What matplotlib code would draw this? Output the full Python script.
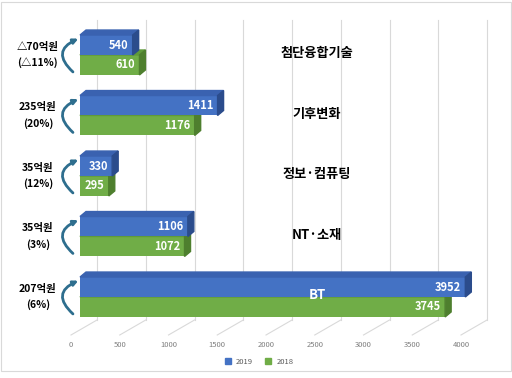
import matplotlib.pyplot as plt
from matplotlib.patches import Polygon, FancyArrowPatch, Rectangle
from matplotlib.lines import Line2D

plt.rcParams['font.family'] = ['Noto Sans CJK KR', 'DejaVu Sans']

# data (top to bottom)
categories = ['첨단융합기술', '기후변화', '정보·컴퓨팅', 'NT·소재', 'BT']
v2019 = [540, 1411, 330, 1106, 3952]
v2018 = [610, 1176, 295, 1072, 3745]
changes = ['△70억원\n(△11%)', '235억원\n(20%)', '35억원\n(12%)', '35억원\n(3%)', '207억원\n(6%)']

blue, blue_top, blue_side = '#4472C4', '#3A62B0', '#2B4C8C'
green, green_top, green_side = '#70AD47', '#5F9A3A', '#4E7F2E'

fig = plt.figure(figsize=(5.12, 3.78), dpi=100)
# px mapping: x=0 -> 71px, 0.0975 px/unit; category spacing 60.5px
ax = fig.add_axes([60 / 512, 1 - 340 / 378, 440 / 512, 325 / 378])
ax.set_xlim((60 - 71) / 0.0975, (500 - 71) / 0.0975)
ax.set_ylim(-(340 - 297) / 60.5, 4 + (55 - 15) / 60.5)
for s in ax.spines.values():
    s.set_visible(False)
ax.set_yticks([])
ax.set_xticks(range(0, 4001, 500))
ax.tick_params(axis='x', length=0, pad=1, labelsize=5.5, labelcolor='#7F7F7F')

# 3D back wall / floor grid
wdx, wdy = 26 / 0.0975, 15 / 60.5
y_floor = -(335 - 297) / 60.5
y_top = 4 + (55 - 20) / 60.5
for t in range(0, 4001, 500):
    ax.plot([t + wdx, t + wdx], [y_floor + wdy, y_top], color='#D9D9D9', lw=0.8, zorder=0)
    ax.plot([t, t + wdx], [y_floor, y_floor + wdy], color='#D9D9D9', lw=0.8, zorder=0)

base = 9 / 0.0975
h = 0.33
ddx, ddy = 6 / 0.0975, 5 / 60.5
n = len(categories)
ys = [n - 1 - i for i in range(n)]


def bar3d(y0, v, c_front, c_top, c_side):
    ax.barh(y0, v, height=h, left=base, align='edge', color=c_front, zorder=2)
    x1 = base + v
    ax.add_patch(Polygon([(base, y0 + h), (x1, y0 + h), (x1 + ddx, y0 + h + ddy),
                          (base + ddx, y0 + h + ddy)], closed=True, color=c_top, zorder=2))
    ax.add_patch(Polygon([(x1, y0), (x1, y0 + h), (x1 + ddx, y0 + h + ddy),
                          (x1 + ddx, y0 + ddy)], closed=True, color=c_side, zorder=2))


for i, y in enumerate(ys):
    bar3d(y - h, v2018[i], green, green_top, green_side)
    bar3d(y, v2019[i], blue, blue_top, blue_side)
    ax.text(base + v2019[i] - 45, y + h / 2, str(v2019[i]), color='white',
            fontsize=8, fontweight='bold', ha='right', va='center', zorder=3)
    ax.text(base + v2018[i] - 45, y - h / 2, str(v2018[i]), color='white',
            fontsize=8, fontweight='bold', ha='right', va='center', zorder=3)
    col = 'white' if v2019[i] > 2600 else 'black'
    ax.text(2523, y + 0.03, categories[i], color=col, fontsize=9.5,
            fontweight='bold', ha='center', va='center', zorder=4)
    # change annotation
    ax.text(-340, y, changes[i], fontsize=7.5, fontweight='bold', ha='center',
            va='center', linespacing=1.6, clip_on=False)
    arr = FancyArrowPatch((20, y - 0.28), (75, y + 0.27),
                          connectionstyle='arc3,rad=-0.75', arrowstyle='-|>',
                          mutation_scale=7, color='#2E6E8E', lw=2.0, zorder=3,
                          clip_on=False, shrinkA=0, shrinkB=0)
    ax.add_patch(arr)

handles = [Line2D([], [], marker='s', ls='', color=blue, markersize=4),
           Line2D([], [], marker='s', ls='', color=green, markersize=4)]
fig.legend(handles, ['2019', '2018'], loc='center', bbox_to_anchor=(257 / 512, 1 - 362 / 378),
           ncol=2, frameon=False, fontsize=5.5, handletextpad=0.1, columnspacing=1.0,
           labelcolor='#595959')

fig.patches.append(Rectangle((0.002, 0.018), 0.996, 0.978, transform=fig.transFigure,
                             fill=False, edgecolor='#D9D9D9', lw=0.8))

fig.savefig('out.png', dpi=100)
